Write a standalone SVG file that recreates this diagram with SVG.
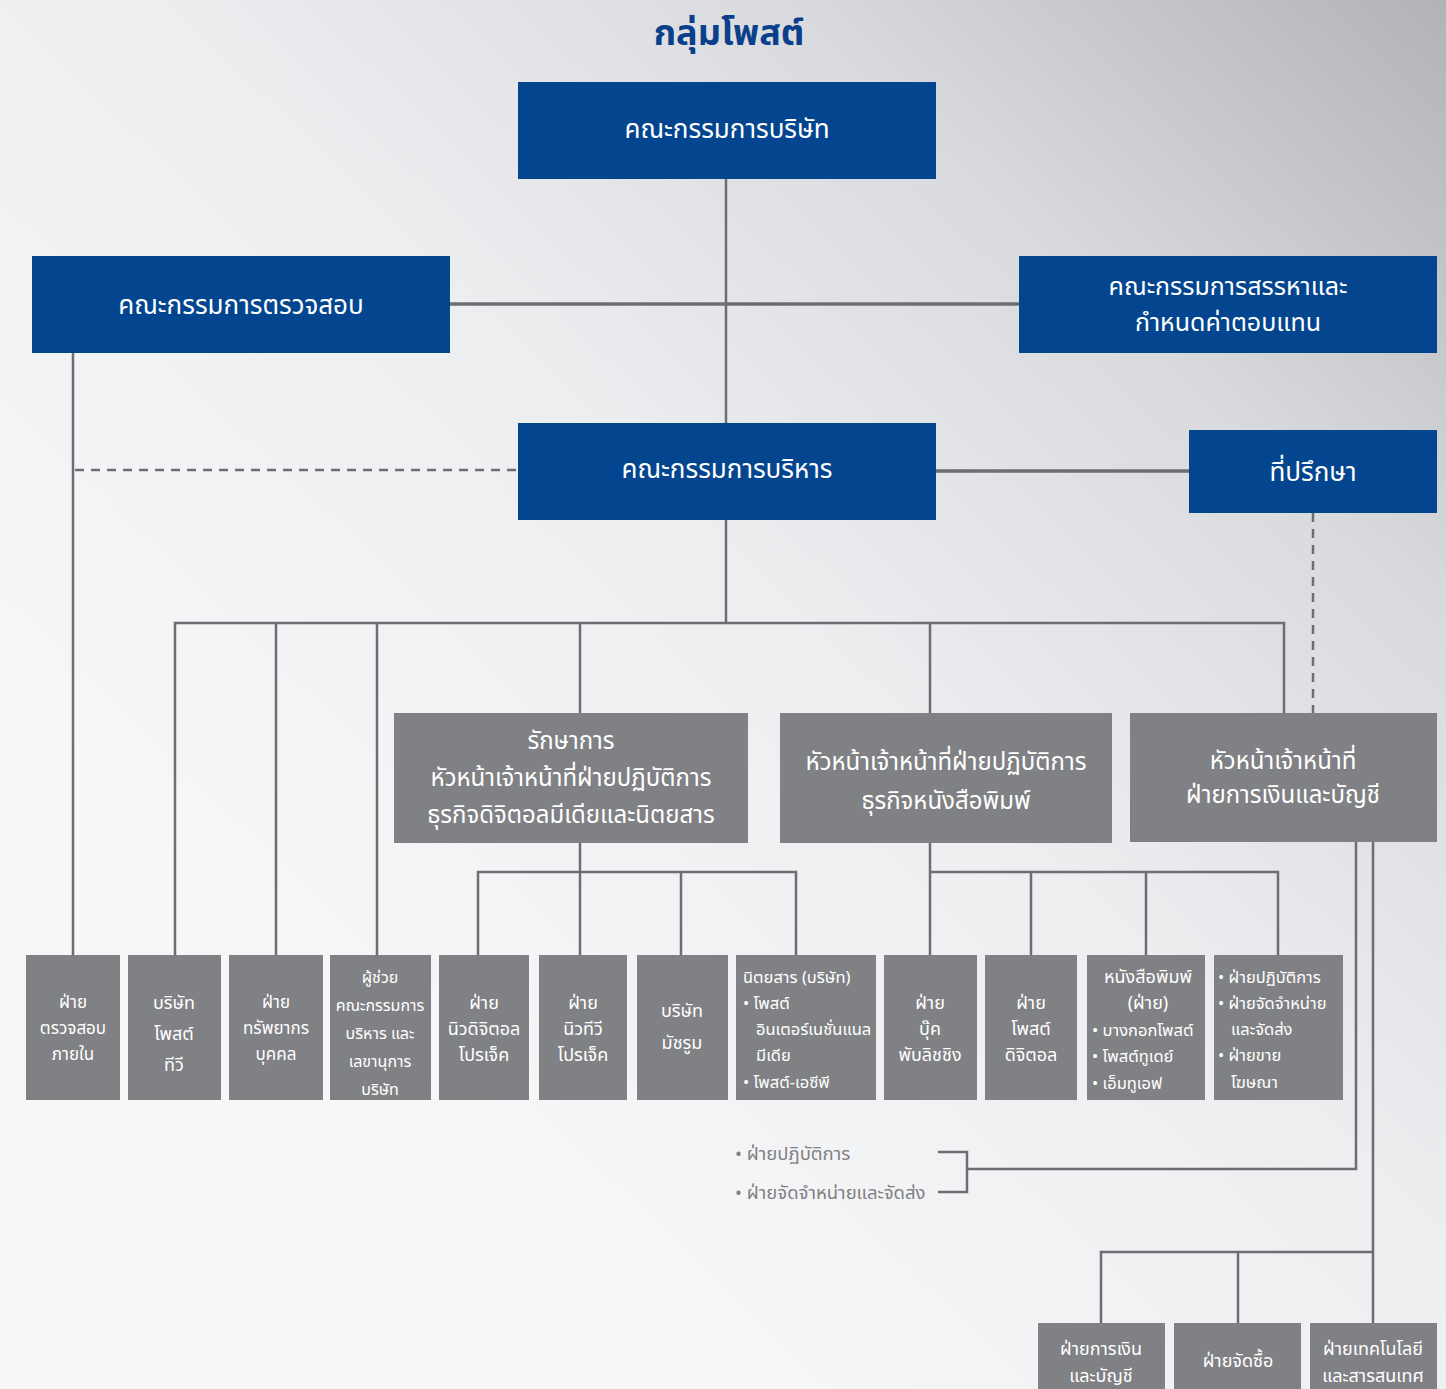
<svg xmlns="http://www.w3.org/2000/svg" width="1446" height="1389" viewBox="0 0 1446 1389">
<defs>
<linearGradient id="bg" x1="1" y1="0" x2="0.25" y2="0.75">
<stop offset="0" stop-color="#b2b3b6"/>
<stop offset="0.3" stop-color="#d9dadd"/>
<stop offset="0.6" stop-color="#eceef0"/>
<stop offset="1" stop-color="#f7f7f8"/>
</linearGradient>
<style>
text{font-family:"Noto Sans Thai","Noto Sans","DejaVu Sans",sans-serif;}
.blue{fill:#03468f;}
.gray{fill:#808184;}
.tw{fill:#ffffff;font-size:26px;text-anchor:middle;}
.tn{fill:#ffffff;font-size:25px;text-anchor:middle;}
.tm{fill:#ffffff;font-size:24px;text-anchor:middle;}
.ts{fill:#ffffff;font-size:18px;text-anchor:middle;}
.tt{fill:#ffffff;font-size:17px;text-anchor:middle;}
.tx{fill:#ffffff;font-size:16px;text-anchor:middle;}
.tl{fill:#ffffff;font-size:16.5px;}
.lab{fill:#808184;font-size:18.5px;}
.ln{stroke:#6d6e71;stroke-width:2.5;fill:none;}
.lt{stroke:#6d6e71;stroke-width:3.5;fill:none;}
.ld{stroke:#6d6e71;stroke-width:2.5;fill:none;stroke-dasharray:9 7;}
</style>
</defs>
<rect width="1446" height="1389" fill="url(#bg)"/>
<text x="729" y="45" text-anchor="middle" font-size="36" font-weight="bold" fill="#0a3f8c">กลุ่มโพสต์</text>

<g id="connectors">
<path class="ln" d="M726 179V423"/>
<path class="lt" d="M450 304H1019"/>
<path class="ln" d="M73 353V955"/>
<path class="ld" d="M75 470H518"/>
<path class="lt" d="M936 471H1189"/>
<path class="ld" d="M1313 513V713"/>
<path class="ln" d="M726 520V623"/>
<path class="ln" d="M175 955V623H1284V713"/>
<path class="ln" d="M276 623V955M377 623V955M580 623V713M930 623V713"/>
<path class="ln" d="M580 843V955M478 955V872H796V955M681 872V955"/>
<path class="ln" d="M930 843V955M930 872H1278V955M1031 872V955M1146 872V955"/>
<path class="ln" d="M1356 842V1169H967M938 1152H967V1192H938"/>
<path class="ln" d="M1373 842V1323M1101 1323V1252H1373M1238 1252V1323"/>
</g>

<g id="board"><rect class="blue" x="518" y="82" width="418" height="97"/><text class="tw" x="727" y="138">คณะกรรมการบริษัท</text></g>
<g id="audit"><rect class="blue" x="32" y="256" width="418" height="97"/><text class="tw" x="241" y="314">คณะกรรมการตรวจสอบ</text></g>
<g id="nomination"><rect class="blue" x="1019" y="256" width="418" height="97"/><text class="tn" x="1228" y="295">คณะกรรมการสรรหาและ</text><text class="tn" x="1228" y="331">กำหนดค่าตอบแทน</text></g>
<g id="executive"><rect class="blue" x="518" y="423" width="418" height="97"/><text class="tw" x="727" y="478">คณะกรรมการบริหาร</text></g>
<g id="advisor"><rect class="blue" x="1189" y="430" width="248" height="83"/><text class="tw" x="1313" y="481">ที่ปรึกษา</text></g>

<g id="digital-head"><rect class="gray" x="394" y="713" width="354" height="130"/><text class="tm" x="571" y="749">รักษาการ</text><text class="tm" x="571" y="786">หัวหน้าเจ้าหน้าที่ฝ่ายปฏิบัติการ</text><text class="tm" x="571" y="823">ธุรกิจดิจิตอลมีเดียและนิตยสาร</text></g>
<g id="print-head"><rect class="gray" x="780" y="713" width="332" height="130"/><text class="tm" x="946" y="770">หัวหน้าเจ้าหน้าที่ฝ่ายปฏิบัติการ</text><text class="tm" x="946" y="809">ธุรกิจหนังสือพิมพ์</text></g>
<g id="cfo"><rect class="gray" x="1130" y="713" width="307" height="129"/><text class="tm" x="1283" y="769">หัวหน้าเจ้าหน้าที่</text><text class="tm" x="1283" y="803">ฝ่ายการเงินและบัญชี</text></g>

<g id="b1"><rect class="gray" x="26" y="955" width="94" height="145"/><text class="tt" x="73" y="1008">ฝ่าย</text><text class="tt" x="73" y="1034">ตรวจสอบ</text><text class="tt" x="73" y="1060">ภายใน</text></g>
<g id="b2"><rect class="gray" x="128" y="955" width="93" height="145"/><text class="ts" x="174" y="1009">บริษัท</text><text class="ts" x="174" y="1040">โพสต์</text><text class="ts" x="174" y="1071">ทีวี</text></g>
<g id="b3"><rect class="gray" x="229" y="955" width="94" height="145"/><text class="tt" x="276" y="1008">ฝ่าย</text><text class="tt" x="276" y="1034">ทรัพยากร</text><text class="tt" x="276" y="1060">บุคคล</text></g>
<g id="b4"><rect class="gray" x="330" y="955" width="101" height="145"/><text class="tx" x="380" y="983">ผู้ช่วย</text><text class="tx" x="380" y="1011">คณะกรรมการ</text><text class="tx" x="380" y="1039">บริหาร และ</text><text class="tx" x="380" y="1067">เลขานุการ</text><text class="tx" x="380" y="1095">บริษัท</text></g>
<g id="b5"><rect class="gray" x="439" y="955" width="90" height="145"/><text class="ts" x="484" y="1009">ฝ่าย</text><text class="ts" x="484" y="1035">นิวดิจิตอล</text><text class="ts" x="484" y="1061">โปรเจ็ค</text></g>
<g id="b6"><rect class="gray" x="539" y="955" width="88" height="145"/><text class="ts" x="583" y="1009">ฝ่าย</text><text class="ts" x="583" y="1035">นิวทีวี</text><text class="ts" x="583" y="1061">โปรเจ็ค</text></g>
<g id="b7"><rect class="gray" x="637" y="955" width="91" height="145"/><text class="ts" x="682" y="1017">บริษัท</text><text class="ts" x="682" y="1049">มัชรูม</text></g>
<g id="b8"><rect class="gray" x="736" y="955" width="140" height="145"/><text class="tl" x="743" y="983">นิตยสาร (บริษัท)</text><text class="tl" x="743" y="1009">• โพสต์</text><text class="tl" x="756" y="1035">อินเตอร์เนชั่นแนล</text><text class="tl" x="756" y="1061">มีเดีย</text><text class="tl" x="743" y="1088">• โพสต์-เอซีพี</text></g>
<g id="b9"><rect class="gray" x="884" y="955" width="93" height="145"/><text class="ts" x="930" y="1009">ฝ่าย</text><text class="ts" x="930" y="1035">บุ๊ค</text><text class="ts" x="930" y="1061">พับลิชชิง</text></g>
<g id="b10"><rect class="gray" x="985" y="955" width="92" height="145"/><text class="ts" x="1031" y="1009">ฝ่าย</text><text class="ts" x="1031" y="1035">โพสต์</text><text class="ts" x="1031" y="1061">ดิจิตอล</text></g>
<g id="b11"><rect class="gray" x="1087" y="955" width="118" height="145"/><text class="ts" x="1148" y="983">หนังสือพิมพ์</text><text class="ts" x="1148" y="1009">(ฝ่าย)</text><text class="tl" x="1092" y="1036">• บางกอกโพสต์</text><text class="tl" x="1092" y="1062">• โพสต์ทูเดย์</text><text class="tl" x="1092" y="1089">• เอ็มทูเอฟ</text></g>
<g id="b12"><rect class="gray" x="1214" y="955" width="129" height="145"/><text class="tl" x="1218" y="983">• ฝ่ายปฏิบัติการ</text><text class="tl" x="1218" y="1009">• ฝ่ายจัดจำหน่าย</text><text class="tl" x="1231" y="1035">และจัดส่ง</text><text class="tl" x="1218" y="1061">• ฝ่ายขาย</text><text class="tl" x="1231" y="1088">โฆษณา</text></g>

<g id="cfo-units"><text class="lab" x="735" y="1160">• ฝ่ายปฏิบัติการ</text><text class="lab" x="735" y="1199">• ฝ่ายจัดจำหน่ายและจัดส่ง</text></g>

<g id="c1"><rect class="gray" x="1038" y="1323" width="127" height="70"/><text class="ts" x="1101" y="1355">ฝ่ายการเงิน</text><text class="ts" x="1101" y="1382">และบัญชี</text></g>
<g id="c2"><rect class="gray" x="1174" y="1323" width="127" height="70"/><text class="ts" x="1238" y="1367">ฝ่ายจัดซื้อ</text></g>
<g id="c3"><rect class="gray" x="1310" y="1323" width="127" height="70"/><text class="ts" x="1373" y="1355">ฝ่ายเทคโนโลยี</text><text class="ts" x="1373" y="1382">และสารสนเทศ</text></g>
</svg>
